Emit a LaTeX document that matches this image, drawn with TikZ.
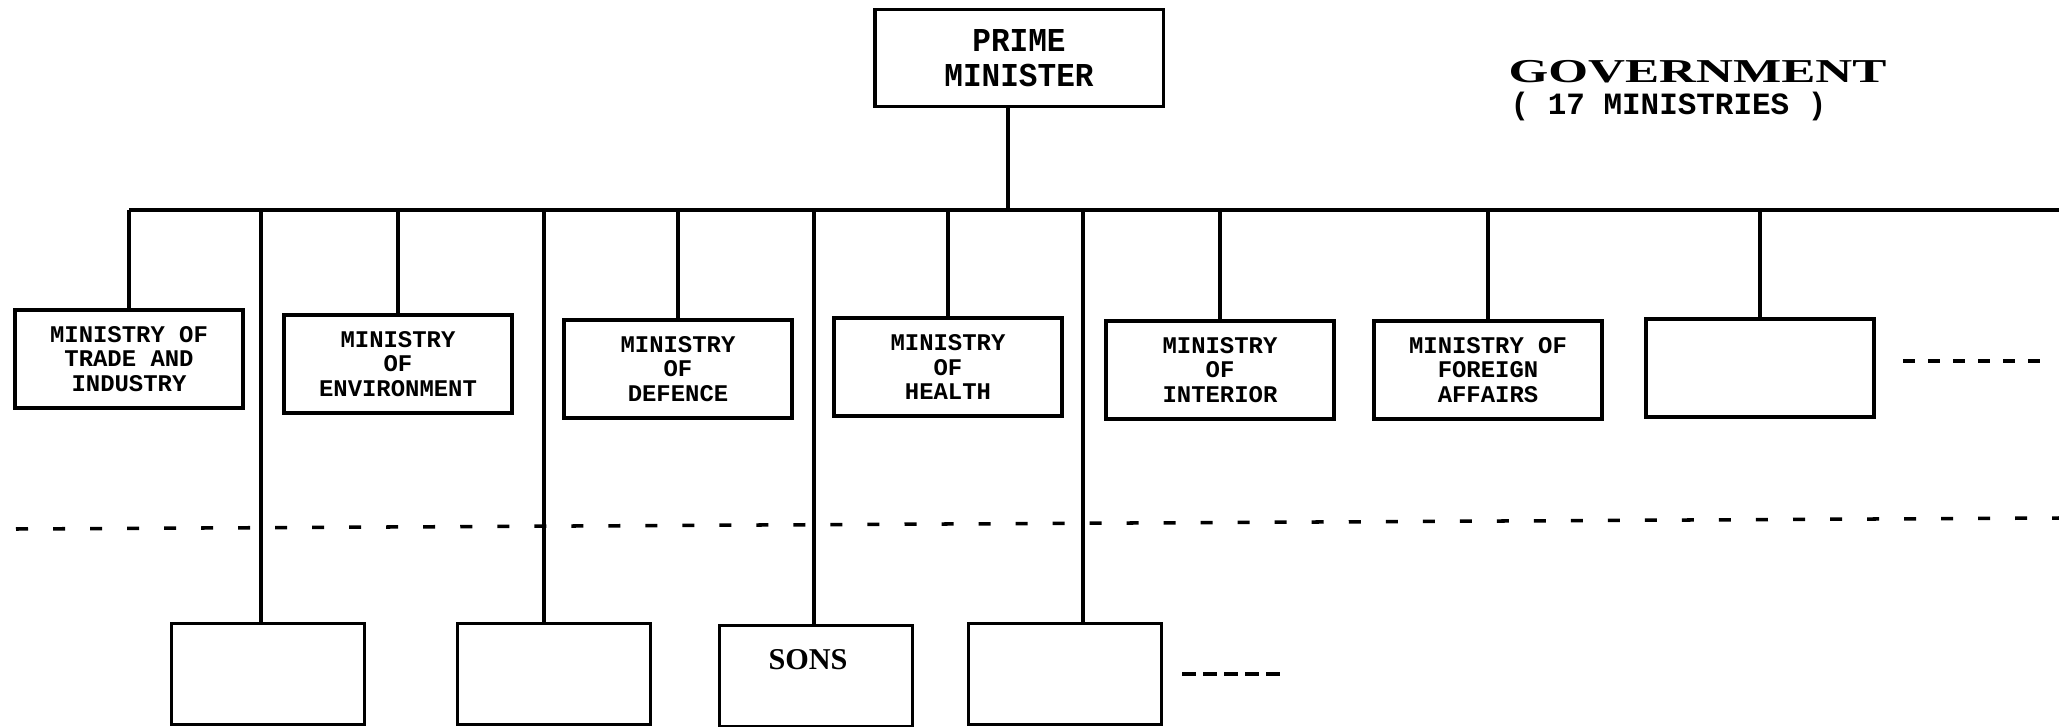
\documentclass[tikz,border=0pt]{standalone}
\usepackage{fontspec}
\newfontfamily\minfont{Liberation Mono}
\newfontfamily\pmfont[FakeStretch=0.93]{Liberation Mono}
\newfontfamily\govfont[FakeStretch=1.53]{Liberation Serif}
\newfontfamily\sonsfont{Liberation Serif}
\usetikzlibrary{calc,positioning}

\begin{document}
\begin{tikzpicture}[x=0.01cm,y=-0.01cm,
	ministry/.style={draw,line width=0.9pt,minimum width=2.28cm,minimum height=0.98cm,inner sep=0pt,align=center,font=\minfont\bfseries\fontsize{6.8}{7}\selectfont},
	sonbox/.style={draw,line width=0.9pt,minimum width=1.93cm,minimum height=1.01cm,inner sep=0pt},
	link/.style={line width=0.9pt},
	levelline/.style={line width=1pt,dash pattern=on 1.2mm off 2.5mm},
	more/.style={line width=1.1pt,dash pattern=on 1.2mm off 1.3mm}]
		
		\useasboundingbox (0,0) rectangle (2059,727);
		
		% head of government
		\node[draw,line width=0.9pt,minimum width=2.88cm,minimum height=0.97cm,align=center,font=\pmfont\bfseries\fontsize{9.5}{10}\selectfont] (pm) at (1019,58) {PRIME\\MINISTER};
		\node[anchor=base west,inner sep=0pt,font=\govfont\bfseries\fontsize{9.5}{10}\selectfont] (gov) at (1508,82) {GOVERNMENT};
		\node[anchor=base west,inner sep=0pt,font=\minfont\bfseries\fontsize{8.8}{9}\selectfont] (count) at (1510,114) {( 17 MINISTRIES )};
		
		% ministries
		\node[ministry] (m1) at (129,359) {MINISTRY OF\\TRADE AND\\INDUSTRY};
		\node[ministry] (m2) at (398,364) {MINISTRY\\OF\\ENVIRONMENT};
		\node[ministry] (m3) at (678,369) {MINISTRY\\OF\\DEFENCE};
		\node[ministry] (m4) at (948,367) {MINISTRY\\OF\\HEALTH};
		\node[ministry] (m5) at (1220,370) {MINISTRY\\OF\\INTERIOR};
		\node[ministry] (m6) at (1488,370) {MINISTRY OF\\FOREIGN\\AFFAIRS};
		\node[ministry] (m7) at (1760,368) {};
		
		% lower level
		\node[sonbox] (b1) at (268,674) {};
		\node[sonbox] (b2) at (554,674) {};
		\node[sonbox] (b3) at (816,676) {};
		\node[sonbox] (b4) at (1065,674) {};
		\node[anchor=base,inner sep=0pt,font=\sonsfont\bfseries\fontsize{8.6}{9}\selectfont] (sons) at ($(b3.north)+(-8,46)$) {SONS};
		
		% bus and connectors
		\coordinate (busR) at (2059,210);
		\draw[link] (m1.north |- busR) -- (busR);
		\draw[link] ([xshift=-1.1mm]pm.south) -- ([xshift=-1.1mm]pm.south |- busR);
		\foreach \m in {m1,m2,m3,m4,m5,m6,m7}
		\draw[link] (\m.north) -- (\m.north |- busR);
		\foreach \b/\dx in {b1/-0.7,b2/-1,b3/-0.2,b4/1.8}
		\draw[link] ([xshift=\dx mm]\b.north) -- ([xshift=\dx mm]\b.north |- busR);
		
		% level split and continuation marks
		\coordinate (levL) at (16,529);
		\coordinate (levR) at (2059,518);
		\draw[levelline] (levL) -- (levR);
		\coordinate (moreA) at (1903,361);
		\coordinate (moreB) at (2045,361);
		\draw[more] (moreA) -- (moreB);
		\coordinate (moreC) at (1182,674);
		\coordinate (moreD) at (1284,674);
		\draw[more,dash pattern=on 1.4mm off 0.7mm] (moreC) -- (moreD);
		
\end{tikzpicture}
\end{document}
